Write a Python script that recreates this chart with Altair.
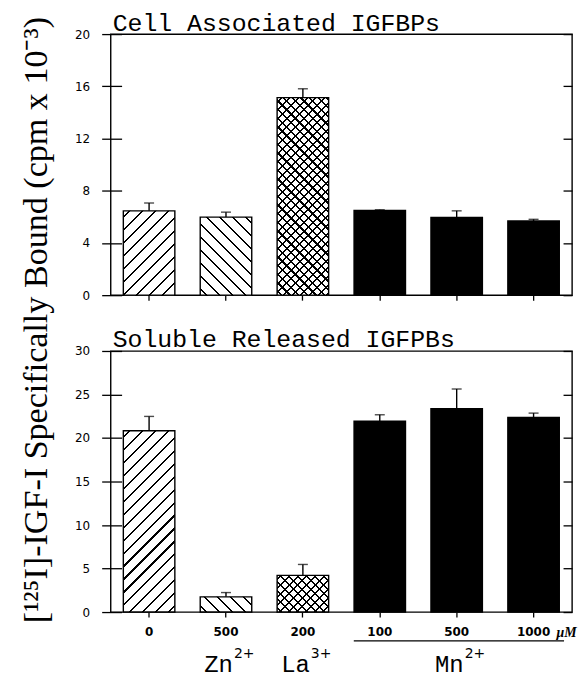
import json
import math
import altair as alt
import pandas as pd

# ---------------- data ----------------
keys = ["ctl", "zn500", "la200", "mn100", "mn500", "mn1000"]
dose_labels = ["0", "500", "200", "100", "500", "1000"]
fill_styles = ["fwd", "back", "cross", "solid", "solid", "solid"]
cell_mean = [6.46, 5.98, 15.13, 6.49, 5.96, 5.68]
cell_err = [0.60, 0.38, 0.68, 0.05, 0.50, 0.13]
soluble_mean = [20.84, 1.75, 4.21, 21.95, 23.38, 22.37]
soluble_err = [1.64, 0.49, 1.26, 0.72, 2.25, 0.49]
ion_names = ["Zn", "La", "Mn"]
ion_charges = ["2+", "3+", "2+"]
ion_at = ["zn500", "la200", "mn500"]
cell_ticks = [0, 4, 8, 12, 16, 20]
soluble_ticks = [0, 5, 10, 15, 20, 25, 30]
title_top = "Cell Associated IGFBPs"
title_bottom = "Soluble Released IGFPBs"
y_title = "[¹²⁵I]-IGF-I Specifically Bound (cpm x 10⁻³)"

# ---------------- layout / style ----------------
W, H = 463, 262
P_IN, P_OUT = 0.33, 0.165
STEP = W / len(keys)
BAR_W = STEP * (1 - P_IN)
MONO = "Liberation Mono"
SERIF = "Liberation Serif"
SANS = "DejaVu Sans"


def hatch(w, h, direction, spacing, thick=1.5, bg="white", fg="black"):
    L = w + h
    k = L / (w * w + h * h)
    if direction == "fwd":
        x1, y1, x2, y2 = 0, 0, k * w, k * h
    else:
        x1, y1, x2, y2 = 0, 1, k * w, 1 - k * h
    half = thick * math.sqrt(2) / 2
    stops = [alt.GradientStop(offset=0, color=bg)]
    s = spacing * 0.5
    while s - half < L:
        a = max(0.0, (s - half) / L)
        b = min(1.0, (s + half) / L)
        stops += [
            alt.GradientStop(offset=round(a, 5), color=bg),
            alt.GradientStop(offset=round(a, 5), color=fg),
            alt.GradientStop(offset=round(b, 5), color=fg),
            alt.GradientStop(offset=round(b, 5), color=bg),
        ]
        s += spacing
    stops.append(alt.GradientStop(offset=1, color=bg))
    return alt.LinearGradient(gradient="linear", stops=stops,
                              x1=round(x1, 5), y1=round(y1, 5),
                              x2=round(x2, 5), y2=round(y2, 5))


label_expr = "{}[indexof({}, datum.value)]".format(json.dumps(dose_labels), json.dumps(keys))


def panel(means, errs, ymax, ticks, title, bottom):
    df = pd.DataFrame({"key": keys, "mean": means,
                       "upper": [m + e for m, e in zip(means, errs)],
                       "style": fill_styles})
    xscale = alt.Scale(domain=keys, paddingInner=P_IN, paddingOuter=P_OUT)
    xaxis = alt.Axis(title=None, domain=False, grid=False, tickSize=5, tickColor="black",
                     tickWidth=1.3, labels=bottom, labelExpr=label_expr, labelAngle=0,
                     labelPadding=10, labelFont=SANS, labelFontWeight="bold",
                     labelFontSize=12, labelColor="black")
    x = alt.X("key:N", scale=xscale, axis=xaxis)
    yscale = alt.Scale(domain=[0, ymax], nice=False, zero=True)
    left_axis = alt.Axis(title=None, values=ticks, domain=False, grid=False, tickSize=20,
                         offset=-11, tickColor="black", tickWidth=1.3, labelPadding=12,
                         labelFont=SANS, labelFontSize=12, labelColor="black")
    y = alt.Y("mean:Q", scale=yscale, axis=left_axis)

    base = alt.Chart(df)
    layers = []
    for i, k in enumerate(keys):
        st = fill_styles[i]
        if st == "solid":
            continue
        h = means[i] / ymax * H
        sub = base.transform_filter(alt.datum.key == k)
        if st in ("fwd", "back"):
            layers.append(sub.mark_bar(fill=hatch(BAR_W, h, st, 13.0), stroke="black",
                                       strokeWidth=1.4).encode(x=x, y=y))
        else:
            layers.append(sub.mark_bar(fill=hatch(BAR_W, h, "fwd", 8.7), stroke="black",
                                       strokeWidth=1.4).encode(x=x, y=y))
            layers.append(sub.mark_bar(fill=hatch(BAR_W, h, "back", 8.7, bg="rgba(0,0,0,0)"),
                                       strokeOpacity=0).encode(x=x, y=y))
    layers.append(base.transform_filter(alt.datum.style == "solid")
                  .mark_bar(fill="black", stroke="black", strokeWidth=1.3).encode(x=x, y=y))
    layers.append(base.mark_rule(color="black", strokeWidth=1.4)
                  .encode(x=x, y=y, y2="upper:Q"))
    layers.append(base.mark_tick(color="black", thickness=1.4, size=10)
                  .encode(x=x, y=alt.Y("upper:Q", scale=yscale, axis=left_axis)))

    tdf = pd.DataFrame({"t": [title]})
    layers.append(alt.Chart(tdf).mark_text(font=MONO, fontSize=24.9, align="left",
                                           baseline="alphabetic", color="black")
                  .encode(x=alt.value(2), y=alt.value(-3.5), text="t:N"))

    if bottom:
        ions = pd.DataFrame({"key": ion_at, "name": ion_names, "charge": ion_charges})
        layers.append(alt.Chart(ions).mark_text(font=MONO, fontSize=24, align="right",
                                                baseline="alphabetic", dx=7, color="black")
                      .encode(x=x, y=alt.value(H + 60), text="name:N"))
        layers.append(alt.Chart(ions).mark_text(font=SANS, fontSize=14, align="left",
                                                baseline="alphabetic", dx=8, color="black")
                      .encode(x=x, y=alt.value(H + 46), text="charge:N"))
        unit = pd.DataFrame({"key": ["mn1000"], "unit": ["μM"]})
        layers.append(alt.Chart(unit).mark_text(font=SERIF, fontSize=14, fontStyle="italic",
                                                fontWeight="bold", align="left",
                                                baseline="alphabetic", dx=23, color="black")
                      .encode(x=x, y=alt.value(H + 25), text="unit:N"))
        layers.append(alt.Chart(unit).mark_rule(color="black", strokeWidth=1.2)
                      .encode(x=alt.value(244), x2=alt.value(455), y=alt.value(H + 29)))
        yt = pd.DataFrame({"t": [y_title]})
        layers.append(alt.Chart(yt).mark_text(font=SERIF, fontSize=34.2, angle=270,
                                              align="center", baseline="alphabetic",
                                              color="black")
                      .encode(x=alt.value(-64), y=alt.value(-31), text="t:N"))

    inner = alt.layer(*layers)
    right_axis = alt.Axis(orient="right", title=None, values=ticks, domain=False, grid=False,
                          labels=False, tickSize=9, offset=-9, tickColor="black", tickWidth=1.3)
    right = base.mark_point(opacity=0).encode(
        x=x, y=alt.Y("mean:Q", scale=yscale, axis=right_axis))
    return (alt.layer(inner, right)
            .resolve_scale(y="independent")
            .properties(width=W, height=H))


top = panel(cell_mean, cell_err, 20, cell_ticks, title_top, False)
bot = panel(soluble_mean, soluble_err, 30, soluble_ticks, title_bottom, True)

chart = (alt.vconcat(top, bot, spacing=56, bounds="flush")
         .properties(padding={"left": 11, "top": 0, "right": 0, "bottom": 0},
                     background="white")
         .configure_view(stroke="black", strokeWidth=1.4))

chart.save("out.html", embed_options={"renderer": "svg", "actions": False})
